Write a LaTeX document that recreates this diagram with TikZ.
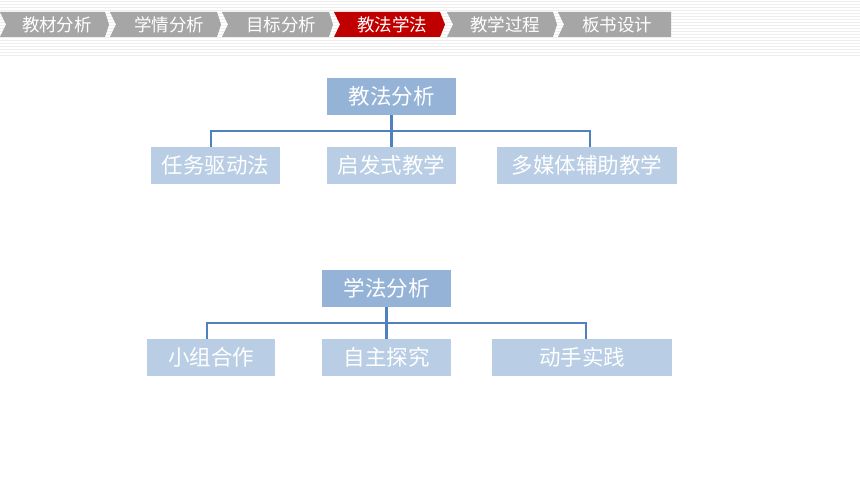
\documentclass[tikz,border=0pt]{standalone}
\usepackage{fontspec}
\newfontfamily\cjk{Noto Sans CJK SC}
\definecolor{tabgray}{HTML}{A6A6A6}
\definecolor{tabred}{HTML}{C00000}
\definecolor{rootblue}{HTML}{95B3D7}
\definecolor{childblue}{HTML}{B9CDE5}
\definecolor{linkblue}{HTML}{4F81BD}
\definecolor{stripe}{HTML}{EEEEEE}
\begin{document}
\begin{tikzpicture}[x=1pt,y=-1pt,
  tabtext/.style={font=\cjk\fontsize{17.5}{17.5}\selectfont,text=white,inner sep=0pt},
  rootbox/.style={fill=rootblue,minimum width=129pt,minimum height=37pt,inner sep=0pt,font=\cjk\fontsize{21.5}{21.5}\selectfont,text=white},
  childbox/.style={fill=childblue,minimum height=37pt,inner sep=0pt,font=\cjk\fontsize{21.5}{21.5}\selectfont,text=white},
  link/.style={draw=linkblue,line width=2.3pt}]
\useasboundingbox (0,0) rectangle (860,484);
\fill[white] (0,0) rectangle (860,484);
% background stripes
\foreach \y in {1,4,...,55} {\fill[stripe] (0,\y) rectangle (860,\y+1.5);}
% tabs
\newcommand{\tabshape}[4]{%
  \fill[#3] (#1,12) -- (#2,12) -- (#2+#4,24.5) -- (#2,37) -- (#1,37) -- (#1+6,24.5) -- cycle;}
\tabshape{0}{105}{tabgray}{4}
\tabshape{110}{217}{tabgray}{4}
\tabshape{222}{329}{tabgray}{4}
\tabshape{334}{440}{tabred}{5}
\tabshape{447}{553}{tabgray}{4}
\tabshape{558}{671}{tabgray}{0}
\node[tabtext] (t1) at (57,25) {教材分析};
\node[tabtext] (t2) at (169,25) {学情分析};
\node[tabtext] (t3) at (281,25) {目标分析};
\node[tabtext] (t4) at (392,25) {教法学法};
\node[tabtext] (t5) at (505,25) {教学过程};
\node[tabtext] (t6) at (617,25) {板书设计};
% tree 1
\node[rootbox] (r1) at (391.5,96.5) {教法分析};
\node[childbox,minimum width=129pt] (c11) at (215.5,165.5) {任务驱动法};
\node[childbox,minimum width=129pt] (c12) at (391.5,165.5) {启发式教学};
\node[childbox,minimum width=180pt] (c13) at (587,165.5) {多媒体辅助教学};
\coordinate (b1) at (391.5,131);
\draw[link] ([xshift=-4.5pt]c11.north) |- (b1) -| ([xshift=3pt]c13.north);
\draw[link] (r1.south) -- (c12.north);
% tree 2
\node[rootbox] (r2) at (386.5,288.5) {学法分析};
\node[childbox,minimum width=128pt] (c21) at (211,357.5) {小组合作};
\node[childbox,minimum width=129pt] (c22) at (386.5,357.5) {自主探究};
\node[childbox,minimum width=180pt] (c23) at (582,357.5) {动手实践};
\coordinate (b2) at (386.5,323);
\draw[link] ([xshift=-4pt]c21.north) |- (b2) -| ([xshift=4pt]c23.north);
\draw[link] (r2.south) -- (c22.north);
\end{tikzpicture}
\end{document}
